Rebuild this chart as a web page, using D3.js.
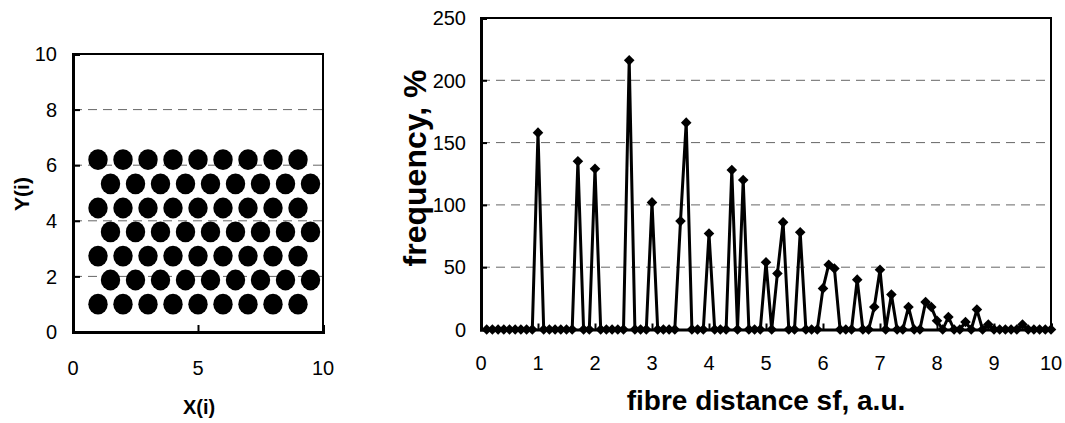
<!DOCTYPE html>
<html>
<head>
<meta charset="utf-8">
<script src="https://cdn.jsdelivr.net/npm/d3@7"></script>
<style>
  body { margin: 0; background: #fff; }
  text { font-family: Arial, "Liberation Sans", sans-serif; fill: #000; }
</style>
</head>
<body>
<div id="chart"></div>
<script>
// left panel: fibre centre positions (hexagonal packing, row by row)
var rowY = [1.0, 1.87, 2.73, 3.6, 4.46, 5.33, 6.2];
var colsA = [1, 2, 3, 4, 5, 6, 7, 8, 9];
var colsB = [1.5, 2.5, 3.5, 4.5, 5.5, 6.5, 7.5, 8.5, 9.5];
var leftTicksX = [0, 5, 10];
var leftTicksY = [0, 2, 4, 6, 8, 10];

// right panel: frequency of fibre distances
var distance = [
  0.1, 0.2, 0.3, 0.4, 0.5, 0.6, 0.7, 0.8, 0.9, 1.0,
  1.1, 1.2, 1.3, 1.4, 1.5, 1.6, 1.7, 1.8, 1.9, 2.0,
  2.1, 2.2, 2.3, 2.4, 2.5, 2.6, 2.7, 2.8, 2.9, 3.0,
  3.1, 3.2, 3.3, 3.4, 3.5, 3.6, 3.7, 3.8, 3.9, 4.0,
  4.1, 4.2, 4.3, 4.4, 4.5, 4.6, 4.7, 4.8, 4.9, 5.0,
  5.1, 5.2, 5.3, 5.4, 5.5, 5.6, 5.7, 5.8, 5.9, 6.0,
  6.1, 6.2, 6.3, 6.4, 6.5, 6.6, 6.7, 6.8, 6.9, 7.0,
  7.1, 7.2, 7.3, 7.4, 7.5, 7.6, 7.7, 7.8, 7.9, 8.0,
  8.1, 8.2, 8.3, 8.4, 8.5, 8.6, 8.7, 8.8, 8.9, 9.0,
  9.1, 9.2, 9.3, 9.4, 9.5, 9.6, 9.7, 9.8, 9.9, 10.0
];
var frequency = [
  0, 0, 0, 0, 0, 0, 0, 0, 0, 158,
  0, 0, 0, 0, 0, 0, 135, 0, 0, 129,
  0, 0, 0, 0, 0, 216, 0, 0, 0, 102,
  0, 0, 0, 0, 87, 166, 0, 0, 0, 77,
  0, 0, 0, 128, 0, 120, 0, 0, 0, 54,
  0, 45, 86, 0, 0, 78, 0, 0, 0, 33,
  52, 49, 0, 0, 0, 40, 0, 0, 18, 48,
  0, 28, 0, 0, 18, 0, 0, 22, 18, 7,
  0, 10, 0, 0, 6, 0, 16, 0, 4, 0,
  0, 0, 0, 0, 4, 0, 0, 0, 0, 0
];
var rightTicksX = [0, 1, 2, 3, 4, 5, 6, 7, 8, 9, 10];
var rightTicksY = [0, 50, 100, 150, 200, 250];

var svg = d3.select("#chart").append("svg")
  .attr("width", 1065)
  .attr("height", 423);

// ---------- left panel ----------
var xL = d3.scaleLinear().domain([0, 10]).range([73, 323]);
var yL = d3.scaleLinear().domain([0, 10]).range([332, 54]);

var pts = [];
rowY.forEach(function(y, i) {
  (i % 2 === 0 ? colsA : colsB).forEach(function(x) { pts.push({x: x, y: y}); });
});

var gL = svg.append("g");

gL.selectAll(".grid").data(leftTicksY.filter(d => d > 0 && d < 10)).enter()
  .append("line")
  .attr("x1", xL(0)).attr("x2", xL(10))
  .attr("y1", d => yL(d)).attr("y2", d => yL(d))
  .attr("stroke", "#666").attr("stroke-width", 1)
  .attr("stroke-dasharray", "9,6");

gL.append("path")
  .attr("d", `M${xL(0)},${yL(10)}H${xL(10)}V${yL(0)}`)
  .attr("fill", "none").attr("stroke", "#000").attr("stroke-width", 2);

// axes with inside ticks
gL.append("g")
  .attr("transform", `translate(0,${yL(0)})`)
  .call(d3.axisTop(xL).tickValues(leftTicksX).tickSize(7).tickFormat(""))
  .call(g => g.select(".domain").attr("stroke-width", 3))
  .call(g => g.selectAll(".tick line").attr("stroke-width", 2));
gL.append("g")
  .attr("transform", `translate(${xL(0)},0)`)
  .call(d3.axisRight(yL).tickValues(leftTicksY).tickSize(7).tickFormat(""))
  .call(g => g.select(".domain").attr("stroke-width", 3))
  .call(g => g.selectAll(".tick line").attr("stroke-width", 2));

gL.selectAll(".fibre").data(pts).enter()
  .append("ellipse")
  .attr("cx", d => xL(d.x))
  .attr("cy", d => yL(d.y))
  .attr("rx", 9.7).attr("ry", 10.4)
  .attr("fill", "#000");

gL.selectAll(".ylab").data(leftTicksY).enter()
  .append("text")
  .attr("x", 57).attr("y", d => yL(d)).attr("dy", "0.36em")
  .attr("text-anchor", "end").attr("font-size", 20)
  .text(d => d);
gL.selectAll(".xlab").data(leftTicksX).enter()
  .append("text")
  .attr("x", d => xL(d)).attr("y", 375)
  .attr("text-anchor", "middle").attr("font-size", 20)
  .text(d => d);

gL.append("text")
  .attr("x", 199).attr("y", 414)
  .attr("text-anchor", "middle").attr("font-size", 20).attr("font-weight", "bold")
  .text("X(i)");
gL.append("text")
  .attr("transform", "translate(29,194) rotate(-90)")
  .attr("text-anchor", "middle").attr("font-size", 21).attr("font-weight", "bold")
  .text("Y(i)");

// ---------- right panel ----------
var xR = d3.scaleLinear().domain([0, 10]).range([481, 1051]);
var yR = d3.scaleLinear().domain([0, 250]).range([329.5, 18]);

var gR = svg.append("g");

gR.selectAll(".grid").data(rightTicksY.filter(d => d > 0 && d < 250)).enter()
  .append("line")
  .attr("x1", xR(0)).attr("x2", xR(10))
  .attr("y1", d => yR(d)).attr("y2", d => yR(d))
  .attr("stroke", "#666").attr("stroke-width", 1)
  .attr("stroke-dasharray", "9,6");

gR.append("path")
  .attr("d", `M${xR(0)},${yR(250)}H${xR(10)}V${yR(0)}`)
  .attr("fill", "none").attr("stroke", "#000").attr("stroke-width", 2);

gR.append("g")
  .attr("transform", `translate(0,${yR(0)})`)
  .call(d3.axisTop(xR).tickValues(rightTicksX).tickSize(6).tickFormat(""))
  .call(g => g.select(".domain").attr("stroke-width", 3))
  .call(g => g.selectAll(".tick line").attr("stroke-width", 2));
gR.append("g")
  .attr("transform", `translate(${xR(0)},0)`)
  .call(d3.axisRight(yR).tickValues(rightTicksY).tickSize(6).tickFormat(""))
  .call(g => g.select(".domain").attr("stroke-width", 3))
  .call(g => g.selectAll(".tick line").attr("stroke-width", 2));

var series = distance.map((d, i) => ({x: d, y: frequency[i]}));

gR.append("path")
  .datum(series)
  .attr("fill", "none").attr("stroke", "#000").attr("stroke-width", 3)
  .attr("stroke-linejoin", "round")
  .attr("d", d3.line().x(d => xR(d.x)).y(d => yR(d.y)));

gR.selectAll(".mark").data(series).enter()
  .append("path")
  .attr("d", d3.symbol(d3.symbolSquare, 56)())
  .attr("transform", d => `translate(${xR(d.x)},${yR(d.y)}) rotate(45)`)
  .attr("fill", "#000");

gR.selectAll(".ylab").data(rightTicksY).enter()
  .append("text")
  .attr("x", 466).attr("y", d => yR(d)).attr("dy", "0.36em")
  .attr("text-anchor", "end").attr("font-size", 20)
  .text(d => d);
gR.selectAll(".xlab").data(rightTicksX).enter()
  .append("text")
  .attr("x", d => xR(d)).attr("y", 370)
  .attr("text-anchor", "middle").attr("font-size", 20)
  .text(d => d);

gR.append("text")
  .attr("x", 766).attr("y", 410)
  .attr("text-anchor", "middle").attr("font-size", 28).attr("font-weight", "bold")
  .text("fibre distance sf, a.u.");
gR.append("text")
  .attr("transform", "translate(426,168) rotate(-90)")
  .attr("text-anchor", "middle").attr("font-size", 32).attr("font-weight", "bold")
  .text("frequency, %");
</script>
</body>
</html>
